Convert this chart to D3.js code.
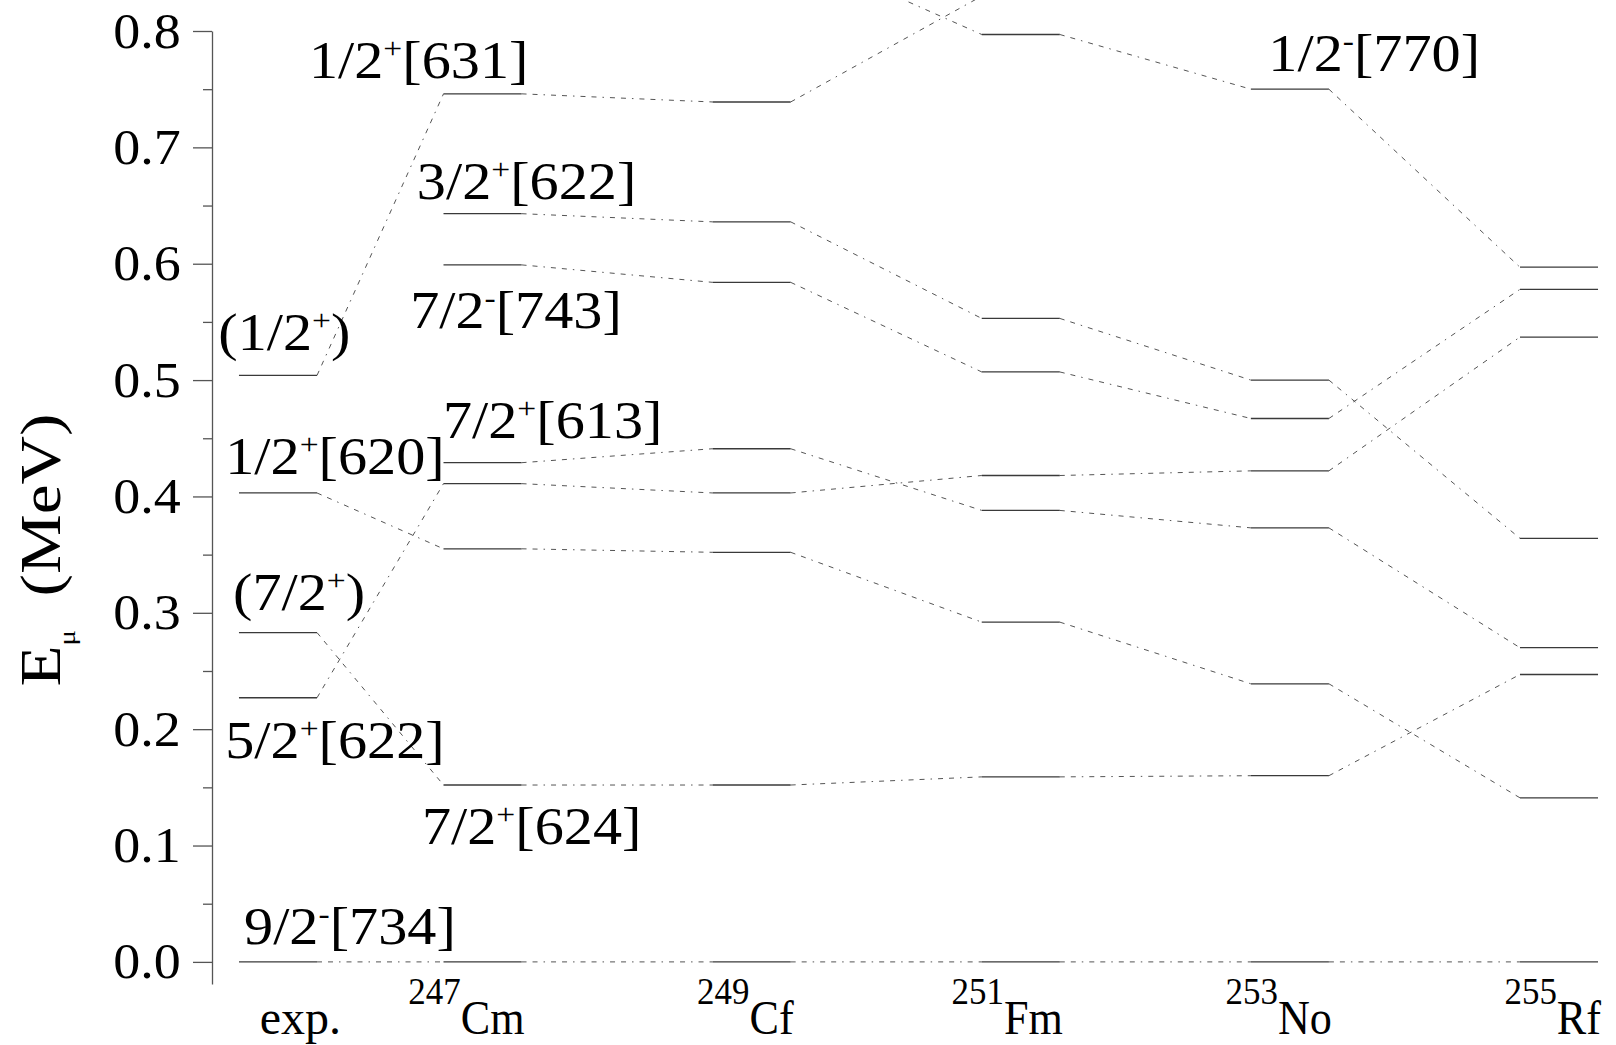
<!DOCTYPE html>
<html>
<head>
<meta charset="utf-8">
<script src="https://cdn.jsdelivr.net/npm/d3@7"></script>
<style>
  body { margin: 0; background: #fff; }
  svg { display: block; font-family: "Liberation Serif", "Times New Roman", serif; }
</style>
</head>
<body>
<script>
// level scheme, energies in MeV

var w = 1616;
var h = 1045;

// columns: experiment + calculated nuclei
var nuclei = ["exp.", "Cm", "Cf", "Fm", "No", "Rf"];
var massNumbers = ["", "247", "249", "251", "253", "255"];
var columnPos = [0.24, 1, 2, 3, 4, 5];

// one array per orbital (null = no level in that column)
var e734 = [0, 0, 0, 0, 0, 0];                         // 9/2-[734]
var e631 = [0.504, 0.746, 0.739, 0.83, null, null];    // 1/2+[631]
var e622a = [null, 0.643, 0.636, 0.553, 0.500, 0.364]; // 3/2+[622]
var e743 = [null, 0.599, 0.584, 0.507, 0.467, 0.578];  // 7/2-[743]
var e613 = [null, 0.429, 0.441, 0.388, 0.373, 0.270];  // 7/2+[613]
var e622b = [0.227, 0.411, 0.403, 0.418, 0.422, 0.537]; // 5/2+[622]
var e620 = [0.403, 0.355, 0.352, 0.292, 0.239, 0.141]; // 1/2+[620]
var e624 = [0.283, 0.152, 0.152, 0.159, 0.160, 0.247]; // 7/2+[624]
var e770 = [null, null, 0.87, 0.797, 0.750, 0.597];    // 1/2-[770]

var orbitals = [e734, e631, e622a, e743, e613, e622b, e620, e624, e770];

// state labels ("^" marks the superscript sign) and where they sit (column units, MeV)
var labelTexts = ["1/2^+[631]", "3/2^+[622]", "7/2^-[743]", "(1/2^+)", "7/2^+[613]",
                  "1/2^+[620]", "(7/2^+)", "5/2^+[622]", "7/2^+[624]", "9/2^-[734]", "1/2^-[770]"];
var labelCol = [0.355, 0.756, 0.731, 0.018, 0.853, 0.044, 0.073, 0.044, 0.775, 0.114, 3.92];
var labelE = [0.760, 0.656, 0.545, 0.526, 0.450, 0.419, 0.302, 0.175, 0.1015, 0.0155, 0.766];

var majorTicks = [0, 0.1, 0.2, 0.3, 0.4, 0.5, 0.6, 0.7, 0.8];
var minorTicks = [0.05, 0.15, 0.25, 0.35, 0.45, 0.55, 0.65, 0.75];

var stretch = 1.12;    // the serif face in the figure is a bit wider than Liberation
var catStretch = 0.92; // ...except the nucleus names, which are narrower
var halfWidth = 0.145; // half length of a level bar, column units

var svg = d3.select("body")
  .append("svg")
  .attr("width", w)
  .attr("height", h);

var x = d3.scaleLinear().domain([0, 5]).range([213.4, 1559]);
var y = d3.scaleLinear().domain([-0.019, 0.8]).range([984, 31]);

// axis
var axisG = svg.append("g").attr("transform", "translate(212,0)");
axisG.call(d3.axisLeft(y).tickValues(majorTicks).tickFormat(d3.format(".1f"))
  .tickSize(19).tickSizeOuter(0).tickPadding(10));
axisG.append("g").call(d3.axisLeft(y).tickValues(minorTicks).tickFormat("")
  .tickSize(9).tickSizeOuter(0));
axisG.selectAll("path, line").attr("stroke", "#555").attr("stroke-width", 1.3);
axisG.selectAll("g g path").remove();
axisG.selectAll("text")
  .attr("font-size", 50)
  .attr("fill", "#000")
  .attr("font-family", "Liberation Serif")
  .attr("transform", "scale(1.08,1)");

// y label
var yl = svg.append("text")
  .attr("transform", "translate(60,550) rotate(-90) scale(1.2,1)")
  .attr("text-anchor", "middle")
  .attr("font-size", 56);
yl.append("tspan").text("E");
yl.append("tspan").attr("font-size", 24).attr("dy", 15).text("\u03bc");
yl.append("tspan").attr("dy", -15).text("\u2002(MeV)");

// connectors between columns
var links = [];
orbitals.forEach(function(e) {
  for (var i = 0; i < e.length - 1; i++) {
    if (e[i] !== null && e[i + 1] !== null) {
      links.push({x1: columnPos[i] + halfWidth, y1: e[i], x2: columnPos[i + 1] - halfWidth, y2: e[i + 1]});
    }
  }
});

svg.selectAll("line.link")
  .data(links)
  .enter()
  .append("line")
  .attr("class", "link")
  .attr("x1", function(d) { return x(d.x1); })
  .attr("y1", function(d) { return y(d.y1); })
  .attr("x2", function(d) { return x(d.x2); })
  .attr("y2", function(d) { return y(d.y2); })
  .attr("stroke", "#555")
  .attr("stroke-width", 1)
  .attr("stroke-dasharray", "5,6,5,6,1.5,6");

// level bars
var levels = [];
orbitals.forEach(function(e) {
  e.forEach(function(v, i) {
    if (v !== null) levels.push({col: columnPos[i], e: v});
  });
});

svg.selectAll("line.level")
  .data(levels)
  .enter()
  .append("line")
  .attr("class", "level")
  .attr("x1", function(d) { return x(d.col - halfWidth); })
  .attr("x2", function(d) { return x(d.col + halfWidth); })
  .attr("y1", function(d) { return y(d.e); })
  .attr("y2", function(d) { return y(d.e); })
  .attr("stroke", "#3a3a3a")
  .attr("stroke-width", 1.3);

// state labels
labelTexts.forEach(function(t, i) {
  var parts = t.split("^");
  var txt = svg.append("text")
    .attr("transform", "translate(" + x(labelCol[i]) + "," + y(labelE[i]) + ") scale(" + stretch + ",1)")
    .attr("font-size", 52);
  txt.append("tspan").text(parts[0]);
  txt.append("tspan").attr("font-size", 30).attr("dy", -20).text(parts[1].charAt(0));
  txt.append("tspan").attr("dy", 20).text(parts[1].slice(1));
});

// column names
nuclei.forEach(function(n, i) {
  var right = x(columnPos[i] + halfWidth) + (i === 0 ? 24 : 3);
  var sx = i === 0 ? 1 : catStretch;
  var g = svg.append("g").attr("transform", "translate(" + right + ",1034) scale(" + sx + ",1)");
  var t = g.append("text").attr("text-anchor", "end").attr("font-size", 48);
  if (massNumbers[i]) {
    t.append("tspan").attr("font-size", 38).attr("dy", -30).text(massNumbers[i]);
    t.append("tspan").attr("dy", 30).text(n);
  } else {
    t.text(n);
  }
});
</script>
</body>
</html>
